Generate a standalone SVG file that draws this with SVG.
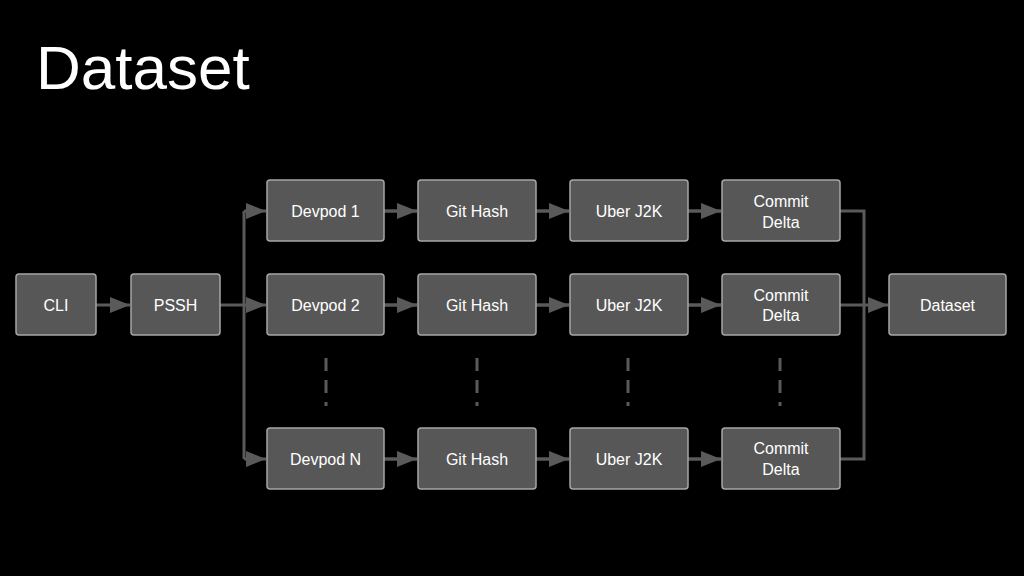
<svg xmlns="http://www.w3.org/2000/svg" width="1024" height="576" viewBox="0 0 1024 576">
<style>
.n rect{fill:#575757;stroke:#a6a6a6;stroke-width:1.5}
.n text{fill:#fff;font-family:"Liberation Sans",Arial,sans-serif;font-size:16px;text-anchor:middle}
.c{stroke:#5a5a5a;stroke-width:3;fill:none}
.a{stroke:#5a5a5a;stroke-width:3;fill:none;marker-end:url(#m)}
.d{stroke:#5a5a5a;stroke-width:3;stroke-dasharray:13 9;fill:none}
</style>
<defs><marker id="m" viewBox="0 0 10 10" refX="10" refY="5" markerWidth="7" markerHeight="7" markerUnits="userSpaceOnUse" orient="auto"><path d="M0,0L10,5L0,10z" fill="#5a5a5a" transform="scale(1)"/></marker>
<marker id="m2" viewBox="0 0 10 10" refX="10" refY="5" markerWidth="20" markerHeight="16" markerUnits="userSpaceOnUse" orient="auto" preserveAspectRatio="none"><path d="M0,0L10,5L0,10z" fill="#5a5a5a"/></marker></defs>
<rect width="1024" height="576" fill="#000"/>
<text x="36" y="89" font-family="'Liberation Sans',Arial,sans-serif" font-size="62" fill="#fff">Dataset</text>
<g id="connectors">
<path class="c" d="M96,305H130" marker-end="url(#m2)"/>
<path class="c" d="M220,305H244M244,211V459"/>
<path class="c" d="M244,211H266" marker-end="url(#m2)"/>
<path class="c" d="M244,305H266" marker-end="url(#m2)"/>
<path class="c" d="M244,459H266" marker-end="url(#m2)"/>
<path class="c" d="M384,211H417M384,305H417M384,459H417" />
<path class="c" d="M536,211H569M536,305H569M536,459H569" />
<path class="c" d="M688,211H721M688,305H721M688,459H721" />
<path class="c" d="M384,211H417" marker-end="url(#m2)"/><path class="c" d="M384,305H417" marker-end="url(#m2)"/><path class="c" d="M384,459H417" marker-end="url(#m2)"/>
<path class="c" d="M536,211H569" marker-end="url(#m2)"/><path class="c" d="M536,305H569" marker-end="url(#m2)"/><path class="c" d="M536,459H569" marker-end="url(#m2)"/>
<path class="c" d="M688,211H721" marker-end="url(#m2)"/><path class="c" d="M688,305H721" marker-end="url(#m2)"/><path class="c" d="M688,459H721" marker-end="url(#m2)"/>
<path class="c" d="M840,211H864V459H840M840,305H864"/>
<path class="c" d="M864,305H888" marker-end="url(#m2)"/>
<path class="d" d="M326,358V406M477,358V406M628,358V406M780,358V406"/>
</g>
<g id="cli" class="n"><rect x="16" y="274" width="80" height="61" rx="3"/><text x="56" y="311">CLI</text></g>
<g id="pssh" class="n"><rect x="131" y="274" width="89" height="61" rx="3"/><text x="175.5" y="311">PSSH</text></g>
<g id="dev1" class="n"><rect x="267" y="180" width="117" height="61" rx="3"/><text x="325.5" y="217">Devpod 1</text></g>
<g id="dev2" class="n"><rect x="267" y="274" width="117" height="61" rx="3"/><text x="325.5" y="311">Devpod 2</text></g>
<g id="devn" class="n"><rect x="267" y="428" width="117" height="61" rx="3"/><text x="325.5" y="465">Devpod N</text></g>
<g id="git1" class="n"><rect x="418" y="180" width="118" height="61" rx="3"/><text x="477" y="217">Git Hash</text></g>
<g id="git2" class="n"><rect x="418" y="274" width="118" height="61" rx="3"/><text x="477" y="311">Git Hash</text></g>
<g id="gitn" class="n"><rect x="418" y="428" width="118" height="61" rx="3"/><text x="477" y="465">Git Hash</text></g>
<g id="uber1" class="n"><rect x="570" y="180" width="118" height="61" rx="3"/><text x="629" y="217">Uber J2K</text></g>
<g id="uber2" class="n"><rect x="570" y="274" width="118" height="61" rx="3"/><text x="629" y="311">Uber J2K</text></g>
<g id="ubern" class="n"><rect x="570" y="428" width="118" height="61" rx="3"/><text x="629" y="465">Uber J2K</text></g>
<g id="cd1" class="n"><rect x="722" y="180" width="118" height="61" rx="3"/><text x="781" y="207">Commit</text><text x="781" y="228">Delta</text></g>
<g id="cd2" class="n"><rect x="722" y="274" width="118" height="61" rx="3"/><text x="781" y="301">Commit</text><text x="781" y="321">Delta</text></g>
<g id="cdn" class="n"><rect x="722" y="428" width="118" height="61" rx="3"/><text x="781" y="454">Commit</text><text x="781" y="475">Delta</text></g>
<g id="dataset" class="n"><rect x="889" y="274" width="117" height="61" rx="3"/><text x="947.5" y="311">Dataset</text></g>
</svg>
